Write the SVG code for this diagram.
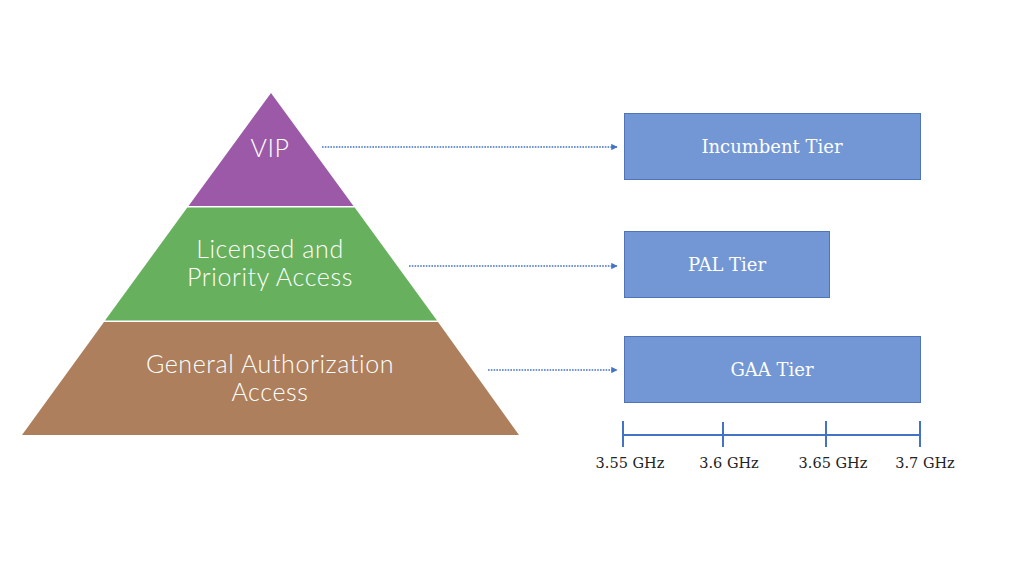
<svg xmlns="http://www.w3.org/2000/svg" width="1024" height="576" viewBox="0 0 1024 576">
<defs>
<style>
.ptxt{font-family:Lato,"Open Sans",sans-serif;font-weight:300;font-size:25px;letter-spacing:0.6px;fill:#ffffff;text-anchor:middle;dominant-baseline:central}
.box{fill:#7297D4;stroke:#4F74BA;stroke-width:1}
.btxt{font-family:"DejaVu Serif","Liberation Serif",serif;font-size:18px;fill:#ffffff;text-anchor:middle;dominant-baseline:central}
.conn{stroke:#4472C4;stroke-width:1.6;stroke-dasharray:1.6 1.2;fill:none}
.axis{stroke:#4472C4;stroke-width:2;fill:none}
.atxt{font-family:"DejaVu Serif","Liberation Serif",serif;font-size:14.5px;fill:#222222;text-anchor:middle}
</style>
<marker id="ah" viewBox="0 0 10 10" refX="9" refY="5" markerWidth="4" markerHeight="4" orient="auto" markerUnits="strokeWidth">
<path d="M0,0 L10,5 L0,10 z" fill="#4472C4"/>
</marker>
</defs>
<rect width="1024" height="576" fill="#ffffff"/>
<g id="tier-vip">
<polygon points="271,93 353.5,206 188.5,206" fill="#9B59A8"/>
<text class="ptxt" x="270" y="147">VIP</text>
</g>
<g id="tier-pal">
<polygon points="187.3,207.5 354.7,207.5 437,320.5 105,320.5" fill="#67B05E"/>
<text class="ptxt" x="270" y="248">Licensed and</text>
<text class="ptxt" x="270" y="276">Priority Access</text>
</g>
<g id="tier-gaa">
<polygon points="104,322 438,322 519,435 22,435" fill="#AD7F5C"/>
<text class="ptxt" x="270" y="363">General Authorization</text>
<text class="ptxt" x="270" y="391">Access</text>
</g>
<g id="box-incumbent">
<rect class="box" x="624.5" y="113.5" width="296" height="66"/>
<text class="btxt" x="772" y="146">Incumbent Tier</text>
</g>
<g id="box-pal">
<rect class="box" x="624.5" y="231.5" width="205" height="66"/>
<text class="btxt" x="727" y="264">PAL Tier</text>
</g>
<g id="box-gaa">
<rect class="box" x="624.5" y="336.5" width="296" height="66"/>
<text class="btxt" x="772" y="369">GAA Tier</text>
</g>
<g id="connectors">
<line class="conn" x1="322" y1="147" x2="617" y2="147" marker-end="url(#ah)"/>
<line class="conn" x1="409" y1="266" x2="617" y2="266" marker-end="url(#ah)"/>
<line class="conn" x1="488" y1="370" x2="617" y2="370" marker-end="url(#ah)"/>
</g>
<g id="axis">
<line class="axis" x1="623" y1="435" x2="920" y2="435"/>
<line class="axis" x1="623" y1="421" x2="623" y2="447"/>
<line class="axis" x1="723" y1="422" x2="723" y2="447"/>
<line class="axis" x1="826" y1="421" x2="826" y2="447"/>
<line class="axis" x1="920" y1="421" x2="920" y2="447"/>
<text class="atxt" x="630" y="468">3.55 GHz</text>
<text class="atxt" x="729" y="468">3.6 GHz</text>
<text class="atxt" x="833" y="468">3.65 GHz</text>
<text class="atxt" x="925" y="468">3.7 GHz</text>
</g>
</svg>
